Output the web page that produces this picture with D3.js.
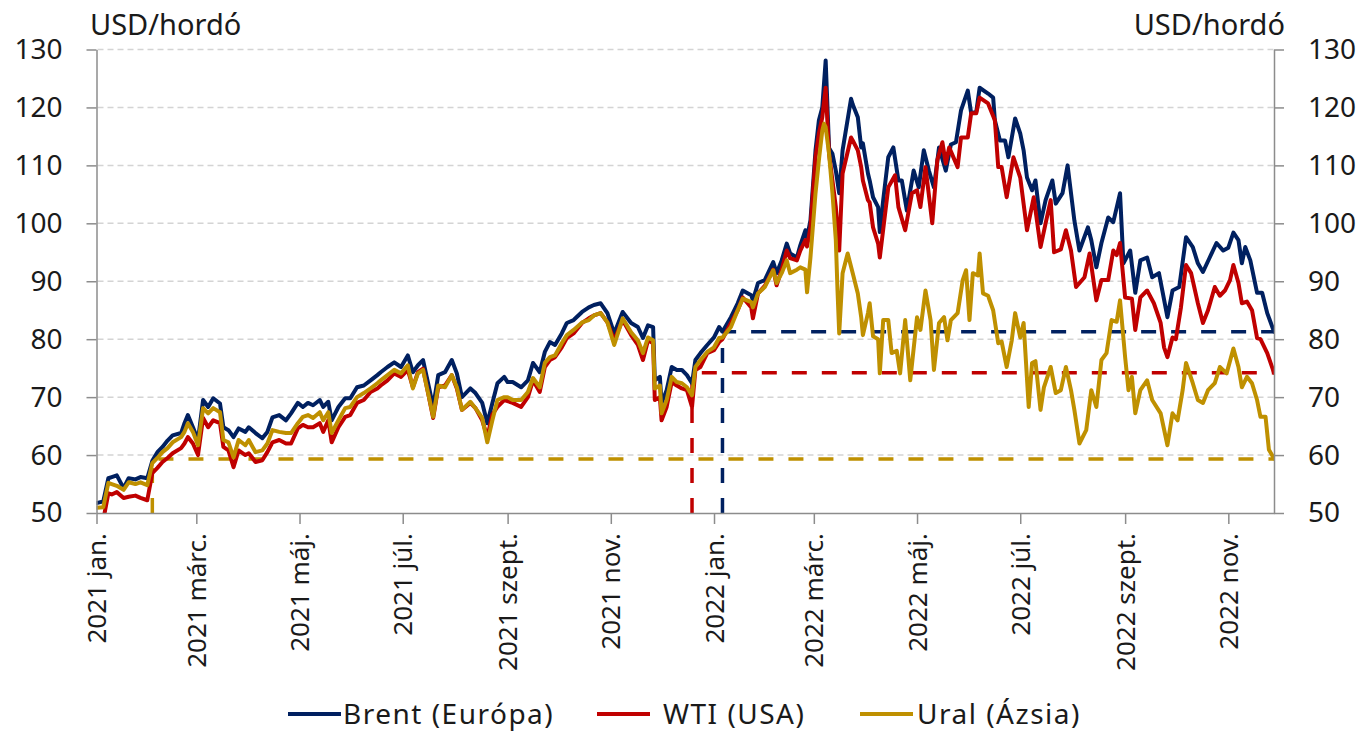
<!DOCTYPE html>
<html>
<head>
<meta charset="utf-8">
<script src="https://cdn.jsdelivr.net/npm/d3@7"></script>
<style>
  html, body { margin: 0; padding: 0; background: #fff; }
  svg { display: block; font-family: "Noto Sans", "Open Sans", sans-serif; }
</style>
</head>
<body>
<svg id="chart" width="1366" height="731"></svg>
<script>
// daily prices, USD/barrel
const brent = [
  ["2021-01-01",51.7],["2021-01-05",52],["2021-01-08",56],["2021-01-10",56.2],["2021-01-13",56.5],["2021-01-17",54.3],
  ["2021-01-20",56],["2021-01-24",55.8],["2021-01-27",56.2],["2021-01-31",56],["2021-02-03",59],["2021-02-06",60.5],
  ["2021-02-09",61.4],["2021-02-12",62.5],["2021-02-15",63.4],["2021-02-20",63.8],["2021-02-22",65.5],["2021-02-24",66.9],
  ["2021-02-27",64.8],["2021-03-02",62.6],["2021-03-05",69.5],["2021-03-08",68.3],["2021-03-11",69.8],["2021-03-15",68.9],
  ["2021-03-17",64.8],["2021-03-20",64.3],["2021-03-23",63.1],["2021-03-26",64.6],["2021-03-30",64],["2021-04-01",64.8],
  ["2021-04-05",63.8],["2021-04-09",62.9],["2021-04-12",64],["2021-04-15",66.5],["2021-04-19",66.9],["2021-04-23",66],
  ["2021-04-26",67.2],["2021-04-30",69],["2021-05-03",68.3],["2021-05-06",69],["2021-05-09",68.6],["2021-05-13",69.5],
  ["2021-05-15",68.3],["2021-05-18",69.2],["2021-05-20",66],["2021-05-24",68.3],["2021-05-28",69.8],["2021-05-31",69.8],
  ["2021-06-04",71.7],["2021-06-08",72],["2021-06-12",72.9],["2021-06-16",73.8],["2021-06-18",74.3],["2021-06-22",75.2],
  ["2021-06-26",76],["2021-06-30",75.2],["2021-07-04",77.2],["2021-07-07",74.3],["2021-07-10",75.5],["2021-07-13",76.4],
  ["2021-07-16",72.4],["2021-07-19",68.3],["2021-07-22",73.8],["2021-07-26",74.3],["2021-07-30",76.4],["2021-08-02",74.1],
  ["2021-08-05",70],["2021-08-10",71.5],["2021-08-13",70.7],["2021-08-17",69],["2021-08-20",65.5],["2021-08-23",69],
  ["2021-08-26",72.4],["2021-08-30",73.5],["2021-09-01",72.6],["2021-09-04",72.6],["2021-09-09",71.7],["2021-09-13",72.9],
  ["2021-09-16",75.9],["2021-09-20",74.3],["2021-09-23",77.8],["2021-09-26",79.5],["2021-09-29",79],["2021-10-03",81],
  ["2021-10-06",82.8],["2021-10-10",83.3],["2021-10-15",84.7],["2021-10-19",85.5],["2021-10-22",85.9],["2021-10-26",86.2],
  ["2021-10-30",84.5],["2021-11-03",81],["2021-11-08",84.7],["2021-11-13",82.8],["2021-11-17",82.1],["2021-11-20",80.2],
  ["2021-11-23",82.4],["2021-11-26",82.1],["2021-11-27",72.9],["2021-11-30",73.5],["2021-12-01",69],["2021-12-04",71.2],
  ["2021-12-07",75.2],["2021-12-10",74.7],["2021-12-13",74.7],["2021-12-16",73.8],["2021-12-19",72.4],["2021-12-21",76.4],
  ["2021-12-24",77.6],["2021-12-28",79],["2022-01-01",80.3],["2022-01-04",82.1],["2022-01-06",81.3],["2022-01-11",83.8],
  ["2022-01-15",86.2],["2022-01-18",88.4],["2022-01-23",87.6],["2022-01-24",86.7],["2022-01-27",89.7],["2022-01-31",90.2],
  ["2022-02-05",93.3],["2022-02-07",91.4],["2022-02-10",93.6],["2022-02-13",96.5],["2022-02-15",94.8],["2022-02-19",94.1],
  ["2022-02-21",96.2],["2022-02-24",98.8],["2022-02-25",97.5],["2022-02-27",100.5],["2022-03-02",112.6],["2022-03-04",117.8],
  ["2022-03-06",120],["2022-03-08",128.1],["2022-03-10",113],["2022-03-12",112],["2022-03-14",109.1],["2022-03-16",105.2],
  ["2022-03-18",112.6],["2022-03-23",121.5],["2022-03-24",120.5],["2022-03-27",118.3],["2022-03-29",113.1],["2022-03-30",113.8],
  ["2022-04-02",108.6],["2022-04-03",107.4],["2022-04-05",104.5],["2022-04-08",102.8],["2022-04-09",98.5],["2022-04-11",104],
  ["2022-04-14",111.4],["2022-04-17",113.1],["2022-04-20",107.4],["2022-04-22",107.4],["2022-04-25",102.2],["2022-04-29",109.1],
  ["2022-05-02",106.2],["2022-05-05",112.6],["2022-05-08",109.1],["2022-05-11",106.2],["2022-05-14",113.1],["2022-05-18",109.1],
  ["2022-05-21",113.6],["2022-05-24",114],["2022-05-27",119.5],["2022-05-31",122.9],["2022-06-02",119],["2022-06-05",119.2],
  ["2022-06-07",123.4],["2022-06-12",122.4],["2022-06-15",121.7],["2022-06-16",117.8],["2022-06-19",114.3],["2022-06-22",114.3],
  ["2022-06-24",111.4],["2022-06-28",118.1],["2022-07-01",115.5],["2022-07-03",112.6],["2022-07-05",107.9],["2022-07-08",105.7],
  ["2022-07-10",107.4],["2022-07-13",100],["2022-07-16",104],["2022-07-20",107.4],["2022-07-22",103.4],["2022-07-26",105.2],
  ["2022-07-29",110],["2022-08-02",100.5],["2022-08-05",95.3],["2022-08-10",99.3],["2022-08-12",97.1],["2022-08-15",92.4],
  ["2022-08-18",96.6],["2022-08-22",101],["2022-08-25",100.2],["2022-08-29",105.2],["2022-08-31",93.1],["2022-09-04",95.3],
  ["2022-09-07",88],["2022-09-10",93.6],["2022-09-14",94.1],["2022-09-17",90.7],["2022-09-21",91.4],["2022-09-23",88.4],
  ["2022-09-26",83.8],["2022-09-29",88.4],["2022-10-03",89],["2022-10-07",97.6],["2022-10-11",95.9],["2022-10-14",93.1],
  ["2022-10-17",91.6],["2022-10-21",94.1],["2022-10-25",96.6],["2022-10-29",95.3],["2022-11-01",95.8],["2022-11-04",98.4],
  ["2022-11-07",97.1],["2022-11-09",93.1],["2022-11-11",95.9],["2022-11-14",93.6],["2022-11-18",88],["2022-11-21",88],
  ["2022-11-24",84.5],["2022-11-28",81.3]
];

const wti = [
  ["2021-01-01",48.5],["2021-01-05",48.8],["2021-01-08",53.4],["2021-01-10",53.2],["2021-01-13",53.6],["2021-01-17",52.6],
  ["2021-01-20",52.8],["2021-01-24",53],["2021-01-27",52.6],["2021-01-31",52.2],["2021-02-03",56.9],["2021-02-06",57.8],
  ["2021-02-09",58.8],["2021-02-12",59.5],["2021-02-15",60.3],["2021-02-20",61.2],["2021-02-22",62],["2021-02-24",63.1],
  ["2021-02-27",62],["2021-03-02",60],["2021-03-05",66.4],["2021-03-08",64.8],["2021-03-11",66],["2021-03-15",65.5],
  ["2021-03-17",61.4],["2021-03-20",60.8],["2021-03-23",57.9],["2021-03-26",60.8],["2021-03-30",60],["2021-04-01",60.3],
  ["2021-04-05",58.8],["2021-04-09",59.1],["2021-04-12",60.5],["2021-04-15",62.2],["2021-04-19",62.6],["2021-04-23",62],
  ["2021-04-26",62],["2021-04-30",64.6],["2021-05-03",65.2],["2021-05-06",64.8],["2021-05-09",64.8],["2021-05-13",65.5],
  ["2021-05-15",64],["2021-05-18",66],["2021-05-20",62.2],["2021-05-24",64.8],["2021-05-28",66.6],["2021-05-31",66.9],
  ["2021-06-04",69],["2021-06-08",69.5],["2021-06-12",70.9],["2021-06-16",71.5],["2021-06-18",72],["2021-06-22",72.9],
  ["2021-06-26",74.1],["2021-06-30",73.5],["2021-07-04",74.7],["2021-07-07",71.7],["2021-07-10",74.3],["2021-07-13",74.9],
  ["2021-07-16",70.7],["2021-07-19",66.4],["2021-07-22",71.7],["2021-07-26",72],["2021-07-30",73.8],["2021-08-02",71.5],
  ["2021-08-05",67.8],["2021-08-10",69],["2021-08-13",68.1],["2021-08-17",66],["2021-08-20",63.1],["2021-08-23",67],
  ["2021-08-26",68.3],["2021-08-30",69.5],["2021-09-01",69.3],["2021-09-04",69],["2021-09-09",68.3],["2021-09-13",70],
  ["2021-09-16",72.9],["2021-09-20",70.9],["2021-09-23",75.2],["2021-09-26",76.4],["2021-09-29",76.9],["2021-10-03",78.6],
  ["2021-10-06",80.2],["2021-10-10",81],["2021-10-15",82.8],["2021-10-19",83.6],["2021-10-22",84.1],["2021-10-26",84.5],
  ["2021-10-30",82.9],["2021-11-03",79.8],["2021-11-08",83.3],["2021-11-13",80.7],["2021-11-17",79],["2021-11-20",76.4],
  ["2021-11-23",79.8],["2021-11-26",79.3],["2021-11-27",69.5],["2021-11-30",70],["2021-12-01",66],["2021-12-04",68.3],
  ["2021-12-07",72.6],["2021-12-10",72],["2021-12-13",71.5],["2021-12-16",71.2],["2021-12-19",68.3],["2021-12-21",74.7],
  ["2021-12-24",75.2],["2021-12-28",77.6],["2022-01-01",78.1],["2022-01-04",79.5],["2022-01-06",80],["2022-01-11",82.8],
  ["2022-01-15",85],["2022-01-18",87.2],["2022-01-23",85.5],["2022-01-24",83.6],["2022-01-27",87.9],["2022-01-31",89.2],
  ["2022-02-05",92],["2022-02-07",89.3],["2022-02-10",92],["2022-02-13",95.3],["2022-02-15",94],["2022-02-19",93.6],
  ["2022-02-21",95.3],["2022-02-24",97.1],["2022-02-25",96],["2022-02-27",99.3],["2022-03-02",111.4],["2022-03-04",115.5],
  ["2022-03-06",118.3],["2022-03-08",123.4],["2022-03-10",112],["2022-03-12",107.4],["2022-03-14",102.8],["2022-03-16",95.3],
  ["2022-03-18",108.6],["2022-03-23",114.8],["2022-03-24",114.3],["2022-03-27",112.6],["2022-03-29",109.7],["2022-03-30",107.4],
  ["2022-04-02",104],["2022-04-03",103.6],["2022-04-05",99.3],["2022-04-08",96.5],["2022-04-09",94.1],["2022-04-14",106.2],
  ["2022-04-18",108.3],["2022-04-20",102.8],["2022-04-24",98.8],["2022-04-28",105.2],["2022-05-01",105.7],["2022-05-03",102.8],
  ["2022-05-06",109.7],["2022-05-10",100],["2022-05-13",110.9],["2022-05-16",114],["2022-05-18",110.3],["2022-05-20",113.1],
  ["2022-05-25",109.7],["2022-05-27",114.8],["2022-05-31",114.8],["2022-06-02",119],["2022-06-05",119],["2022-06-07",121.7],
  ["2022-06-12",120.7],["2022-06-16",117.8],["2022-06-18",109.7],["2022-06-20",109.7],["2022-06-23",104.5],["2022-06-27",111.4],
  ["2022-07-01",107.9],["2022-07-05",98.8],["2022-07-09",104.5],["2022-07-13",95.9],["2022-07-16",100],["2022-07-19",104],
  ["2022-07-21",95],["2022-07-25",95.5],["2022-07-28",98.8],["2022-07-31",95.3],["2022-08-03",89],["2022-08-08",90.7],
  ["2022-08-11",94.8],["2022-08-15",86.7],["2022-08-18",90.2],["2022-08-22",90.2],["2022-08-25",95.3],["2022-08-27",94.5],
  ["2022-08-29",96.6],["2022-09-01",87.2],["2022-09-05",87],["2022-09-07",81.6],["2022-09-10",87.2],["2022-09-14",88.4],
  ["2022-09-18",86.2],["2022-09-22",82.8],["2022-09-24",78.6],["2022-09-26",76.9],["2022-09-29",80.3],["2022-10-01",80],
  ["2022-10-04",85.5],["2022-10-07",92.8],["2022-10-10",91.4],["2022-10-14",86.2],["2022-10-17",82.8],["2022-10-20",85],
  ["2022-10-24",89],["2022-10-27",87.5],["2022-10-30",88.4],["2022-11-02",90.2],["2022-11-04",92.8],["2022-11-07",89.7],
  ["2022-11-09",86.2],["2022-11-12",86.5],["2022-11-15",85],["2022-11-18",80.2],["2022-11-20",80],["2022-11-24",77.6],
  ["2022-11-28",74.2]
];

const ural = [
  ["2021-01-01",50.9],["2021-01-05",51],["2021-01-08",55.2],["2021-01-10",55],["2021-01-13",54.7],["2021-01-17",54],
  ["2021-01-20",55.3],["2021-01-24",55],["2021-01-27",55.3],["2021-01-31",54.8],["2021-02-03",58.6],["2021-02-06",59.5],
  ["2021-02-09",60.5],["2021-02-12",61.2],["2021-02-15",62.2],["2021-02-20",63.1],["2021-02-22",64],["2021-02-24",65.5],
  ["2021-02-27",64],["2021-03-02",61.7],["2021-03-05",68.1],["2021-03-08",67.2],["2021-03-11",68.1],["2021-03-15",67.4],
  ["2021-03-17",62.6],["2021-03-20",62.2],["2021-03-23",59.6],["2021-03-26",62.6],["2021-03-30",61.7],["2021-04-01",62.6],
  ["2021-04-05",60.5],["2021-04-09",60.8],["2021-04-12",62],["2021-04-15",64.3],["2021-04-19",64],["2021-04-23",63.8],
  ["2021-04-26",63.8],["2021-04-30",65.5],["2021-05-03",66.6],["2021-05-06",66.9],["2021-05-09",66.4],["2021-05-13",67.4],
  ["2021-05-15",66],["2021-05-18",67.4],["2021-05-20",63.8],["2021-05-24",66],["2021-05-28",68.1],["2021-05-31",68.3],
  ["2021-06-04",70],["2021-06-08",70.7],["2021-06-12",71.5],["2021-06-16",72.4],["2021-06-18",72.9],["2021-06-22",73.8],
  ["2021-06-26",74.7],["2021-06-30",74.1],["2021-07-04",75.5],["2021-07-07",71.5],["2021-07-10",74.1],["2021-07-13",74.7],
  ["2021-07-16",70.7],["2021-07-19",66.6],["2021-07-22",72],["2021-07-26",71.7],["2021-07-30",73.8],["2021-08-02",71.7],
  ["2021-08-05",67.8],["2021-08-10",69.2],["2021-08-13",68.1],["2021-08-17",66.4],["2021-08-20",62.2],["2021-08-23",66],
  ["2021-08-26",69.5],["2021-08-30",70],["2021-09-01",70],["2021-09-04",69.5],["2021-09-09",69.5],["2021-09-13",70.9],
  ["2021-09-16",73.3],["2021-09-20",71.7],["2021-09-23",75.9],["2021-09-26",76.9],["2021-09-29",77.2],["2021-10-03",79.3],
  ["2021-10-06",80.7],["2021-10-10",81.6],["2021-10-15",82.9],["2021-10-19",83.3],["2021-10-22",84.1],["2021-10-26",84.5],
  ["2021-10-30",82.9],["2021-11-03",79],["2021-11-08",83.6],["2021-11-13",81.2],["2021-11-17",79.8],["2021-11-20",77.6],
  ["2021-11-23",80.3],["2021-11-26",79.8],["2021-11-27",71.5],["2021-11-30",72],["2021-12-01",67.2],["2021-12-04",69.5],
  ["2021-12-07",73.5],["2021-12-10",72.6],["2021-12-13",72.4],["2021-12-16",71.7],["2021-12-19",70.3],["2021-12-21",75.2],
  ["2021-12-24",76.4],["2021-12-28",77.8],["2022-01-01",78.6],["2022-01-04",80.2],["2022-01-06",80.3],["2022-01-11",82.1],
  ["2022-01-15",85],["2022-01-18",87],["2022-01-23",86.4],["2022-01-24",85.5],["2022-01-27",87.9],["2022-01-31",89],
  ["2022-02-05",91.9],["2022-02-07",89.7],["2022-02-10",91.4],["2022-02-13",93.6],["2022-02-15",91.4],["2022-02-19",92],
  ["2022-02-21",92.4],["2022-02-24",92],["2022-02-25",88.1],["2022-02-27",94.1],["2022-03-02",105.2],["2022-03-04",110.9],
  ["2022-03-06",116],["2022-03-07",117.2],["2022-03-08",116.6],["2022-03-10",112],["2022-03-12",105.2],["2022-03-14",97.1],
  ["2022-03-15",88.4],["2022-03-16",81],["2022-03-18",91.4],["2022-03-21",94.8],["2022-03-24",91.4],["2022-03-27",87.9],
  ["2022-03-29",83.8],["2022-03-30",80.7],["2022-04-02",84.5],["2022-04-03",86.2],["2022-04-05",80.5],["2022-04-08",80],
  ["2022-04-09",74.1],["2022-04-11",83.3],["2022-04-14",83.3],["2022-04-16",77.6],["2022-04-19",78],["2022-04-21",74.1],
  ["2022-04-24",83.3],["2022-04-27",72.9],["2022-05-01",83.8],["2022-05-03",81.6],["2022-05-06",88.4],["2022-05-09",83.3],
  ["2022-05-11",74.7],["2022-05-14",82.8],["2022-05-17",83.8],["2022-05-19",79.8],["2022-05-21",83.3],["2022-05-25",84.5],
  ["2022-05-28",90.2],["2022-05-30",91.9],["2022-06-01",83.3],["2022-06-03",91.4],["2022-06-06",91],["2022-06-07",94.8],
  ["2022-06-09",87.9],["2022-06-12",87.5],["2022-06-15",85],["2022-06-18",79.3],["2022-06-20",79.6],["2022-06-23",75.2],
  ["2022-06-26",79.8],["2022-06-28",84.5],["2022-07-01",80.3],["2022-07-03",82.8],["2022-07-06",68.3],["2022-07-08",75.9],
  ["2022-07-10",76.2],["2022-07-13",67.8],["2022-07-15",71.7],["2022-07-19",75.2],["2022-07-22",70.7],["2022-07-25",71.2],
  ["2022-07-28",75.2],["2022-07-31",71.2],["2022-08-02",67.8],["2022-08-05",62],["2022-08-09",64.3],["2022-08-12",71.2],
  ["2022-08-15",68.3],["2022-08-18",76.4],["2022-08-21",77.6],["2022-08-24",83.3],["2022-08-27",83],["2022-08-29",86.7],
  ["2022-09-01",76.9],["2022-09-03",71.2],["2022-09-05",73.5],["2022-09-07",67.2],["2022-09-10",71.2],["2022-09-14",72.9],
  ["2022-09-17",69.5],["2022-09-22",67.2],["2022-09-26",61.7],["2022-09-29",67.2],["2022-10-02",66],["2022-10-05",71.2],
  ["2022-10-07",75.9],["2022-10-11",72.4],["2022-10-14",69.5],["2022-10-17",69],["2022-10-20",71.2],["2022-10-24",72.4],
  ["2022-10-27",75.2],["2022-10-31",74.1],["2022-11-04",78.4],["2022-11-07",75.2],["2022-11-09",71.7],["2022-11-12",73.5],
  ["2022-11-15",72.4],["2022-11-18",69.5],["2022-11-20",66.6],["2022-11-23",66.6],["2022-11-25",60.9],["2022-11-28",59.4]
];

const seriesNames = ["Brent (Európa)", "WTI (USA)", "Ural (Ázsia)"];
const seriesColors = ["#002060", "#c00000", "#bf9000"];

// latest price and the earlier day when it was last at that level
const guideStart = ["2022-01-06", "2021-12-19", "2021-02-03"];
const guideLevel = [81.3, 74.2, 59.3];

const dateStart = "2021-01-01";
const dateEnd = "2022-11-28";
const tickDates = ["2021-01-01","2021-03-01","2021-05-01","2021-07-01","2021-09-01","2021-11-01",
                   "2022-01-01","2022-03-01","2022-05-01","2022-07-01","2022-09-01","2022-11-01"];
const tickLabels = ["2021 jan.","2021 márc.","2021 máj.","2021 júl.","2021 szept.","2021 nov.",
                    "2022 jan.","2022 márc.","2022 máj.","2022 júl.","2022 szept.","2022 nov."];
const yTicks = [50, 60, 70, 80, 90, 100, 110, 120, 130];
const unitLabel = "USD/hordó";

(function () {
  const svg = d3.select("#chart");
  const parse = d3.timeParse("%Y-%m-%d");
  const font = "'Noto Sans', 'Open Sans', sans-serif";
  const plot = { left: 96.5, right: 1274, top: 49.5, bottom: 513 };

  const x = d3.scaleTime().domain([parse(dateStart), parse(dateEnd)]).range([plot.left, plot.right]);
  const y = d3.scaleLinear().domain([50, 130]).range([plot.bottom, plot.top]);

  const toPoints = (rows) => rows.map(([d, v]) => ({ date: parse(d), value: v }));
  const series = [brent, wti, ural].map(toPoints);

  svg.append("rect").attr("width", 1366).attr("height", 731).attr("fill", "#fff");

  svg.append("defs").append("clipPath").attr("id", "plot-clip")
    .append("rect")
    .attr("x", plot.left).attr("y", plot.top - 10)
    .attr("width", plot.right - plot.left).attr("height", plot.bottom - plot.top + 10);

  // gridlines
  svg.append("g")
    .selectAll("line")
    .data(yTicks.filter((t) => t > 50))
    .join("line")
    .attr("x1", plot.left + 1).attr("x2", plot.right)
    .attr("y1", (t) => y(t)).attr("y2", (t) => y(t))
    .attr("stroke", "#d4d4d4").attr("stroke-width", 1.5).attr("stroke-dasharray", "6,4");

  // dashed guides: vertical from the axis, then horizontal to the end
  const guides = svg.append("g").attr("clip-path", "url(#plot-clip)");
  guideStart.forEach((d, i) => {
    const gx = x(parse(d));
    const gy = y(guideLevel[i]);
    guides.append("path")
      .attr("d", `M${gx},${plot.bottom} L${gx},${gy} L${plot.right},${gy}`)
      .attr("fill", "none")
      .attr("stroke", seriesColors[i])
      .attr("stroke-width", 3.5)
      .attr("stroke-dasharray", "15,15");
  });

  const line = d3.line().x((p) => x(p.date)).y((p) => y(p.value));
  svg.append("g").attr("clip-path", "url(#plot-clip)")
    .selectAll("path")
    .data(series)
    .join("path")
    .attr("d", line)
    .attr("fill", "none")
    .attr("stroke", (_, i) => seriesColors[i])
    .attr("stroke-width", 4)
    .attr("stroke-linejoin", "round")
    .attr("stroke-linecap", "round");

  // axes
  const styleAxis = (g) => {
    g.attr("font-family", font);
    g.select(".domain").attr("stroke", "#8c8c8c").attr("stroke-width", 1.5);
    g.selectAll(".tick line").attr("stroke", "#8c8c8c").attr("stroke-width", 1.5);
    g.selectAll(".tick text").attr("font-size", 28).attr("fill", "#1a1a1a");
  };

  svg.append("g")
    .attr("transform", `translate(${plot.left},0)`)
    .call(d3.axisLeft(y).tickValues(yTicks).tickSize(10).tickPadding(24).tickSizeOuter(0))
    .call(styleAxis);

  svg.append("g")
    .attr("transform", `translate(${plot.right},0)`)
    .call(d3.axisRight(y).tickValues(yTicks).tickSize(10).tickPadding(24).tickSizeOuter(0))
    .call(styleAxis);

  const xAxis = svg.append("g")
    .attr("transform", `translate(0,${plot.bottom})`)
    .call(d3.axisBottom(x)
      .tickValues(tickDates.map(parse))
      .tickSize(11)
      .tickSizeOuter(0)
      .tickFormat((_, i) => tickLabels[i]))
    .call(styleAxis);

  xAxis.selectAll(".tick text")
    .attr("font-size", 26)
    .attr("text-anchor", "end")
    .attr("transform", "rotate(-90)")
    .attr("x", -20)
    .attr("y", 0)
    .attr("dy", "0.35em");

  // unit labels
  svg.append("text").attr("x", 90).attr("y", 35)
    .attr("font-size", 29).attr("fill", "#1a1a1a").text(unitLabel);
  svg.append("text").attr("x", 1285).attr("y", 35).attr("text-anchor", "end")
    .attr("font-size", 29).attr("fill", "#1a1a1a").text(unitLabel);

  // legend
  const legendX = [288, 597, 860];
  const legendTextX = [343, 663, 917];
  const legend = svg.append("g").attr("transform", "translate(0,714)");
  seriesNames.forEach((name, i) => {
    legend.append("line")
      .attr("x1", legendX[i]).attr("x2", legendX[i] + 53)
      .attr("y1", 0).attr("y2", 0)
      .attr("stroke", seriesColors[i]).attr("stroke-width", 4);
    legend.append("text")
      .attr("x", legendTextX[i]).attr("y", 0).attr("dy", "0.35em")
      .attr("font-size", 28).attr("letter-spacing", 1.5)
      .attr("fill", "#1a1a1a").text(name);
  });
})();
</script>
</body>
</html>
